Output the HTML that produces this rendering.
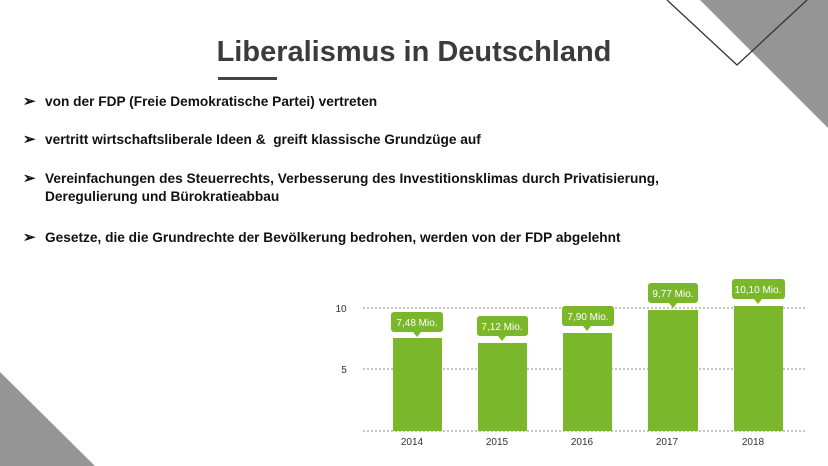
<!DOCTYPE html>
<html><head><meta charset="utf-8"><style>
body{margin:0;width:828px;height:466px;overflow:hidden;background:#fff;font-family:"Liberation Sans",sans-serif;position:relative}
.t{position:absolute;left:0;width:828px;top:36px;text-align:center;font-size:29px;font-weight:bold;color:#3b3b3b}
.b{position:absolute;left:23px;font-size:13.7px;font-weight:bold;color:#111;line-height:18px}
.b span{position:absolute;left:0;font-size:15px}
.b div{margin-left:22px}
</style></head><body>
<svg width="828" height="466" style="position:absolute;left:0;top:0">
<polygon points="700,0 828,0 828,128" fill="#959595"/>
<polyline points="667,0 737,65 807,0" fill="none" stroke="#333" stroke-width="1.3"/>
<polygon points="0,372 95,466 0,466" fill="#959595"/>
<rect x="218" y="77" width="59" height="3" fill="#444"/>
<g stroke="#888" stroke-dasharray="2,2" stroke-width="1">
<line x1="363" y1="308" x2="805" y2="308"/><line x1="363" y1="369" x2="805" y2="369"/><line x1="363" y1="431" x2="805" y2="431"/>
</g>
<g font-size="10" fill="#333" text-anchor="middle">
<text x="341" y="312">10</text><text x="344" y="373">5</text>
<text x="412" y="445">2014</text><text x="497" y="445">2015</text><text x="582" y="445">2016</text><text x="667" y="445">2017</text><text x="753" y="445">2018</text>
</g>
<g fill="#7ab72a">
<rect x="393" y="338" width="49" height="93"/><rect x="478" y="343" width="49" height="88"/><rect x="563" y="333" width="49" height="98"/><rect x="648" y="310" width="50" height="121"/><rect x="734" y="306" width="49" height="125"/>
<rect x="391" y="312" width="52" height="20" rx="3"/><polygon points="413,332 421,332 417,337"/>
<rect x="477" y="316" width="51" height="20" rx="3"/><polygon points="498,336 506,336 502,341"/>
<rect x="562" y="306" width="52" height="20" rx="3"/><polygon points="583,326 591,326 587,331"/>
<rect x="648" y="283" width="50" height="20" rx="3"/><polygon points="669,303 677,303 673,308"/>
<rect x="732" y="279" width="53" height="20" rx="3"/><polygon points="754,299 762,299 758,304"/>
</g>
<g font-size="10" fill="#fff" text-anchor="middle">
<text x="417" y="326">7,48 Mio.</text><text x="502" y="330">7,12 Mio.</text><text x="588" y="320">7,90 Mio.</text><text x="673" y="297">9,77 Mio.</text><text x="758" y="293">10,10 Mio.</text>
</g>
</svg>
<div class="t">Liberalismus in Deutschland</div>
<div class="b" style="top:93px"><span>➢</span><div>von der FDP (Freie Demokratische Partei) vertreten</div></div>
<div class="b" style="top:131px"><span>➢</span><div>vertritt wirtschaftsliberale Ideen &amp;&nbsp; greift klassische Grundzüge auf</div></div>
<div class="b" style="top:170px"><span>➢</span><div>Vereinfachungen des Steuerrechts, Verbesserung des Investitionsklimas durch Privatisierung,<br>Deregulierung und Bürokratieabbau</div></div>
<div class="b" style="top:229px"><span>➢</span><div>Gesetze, die die Grundrechte der Bevölkerung bedrohen, werden von der FDP abgelehnt</div></div>
</body></html>
